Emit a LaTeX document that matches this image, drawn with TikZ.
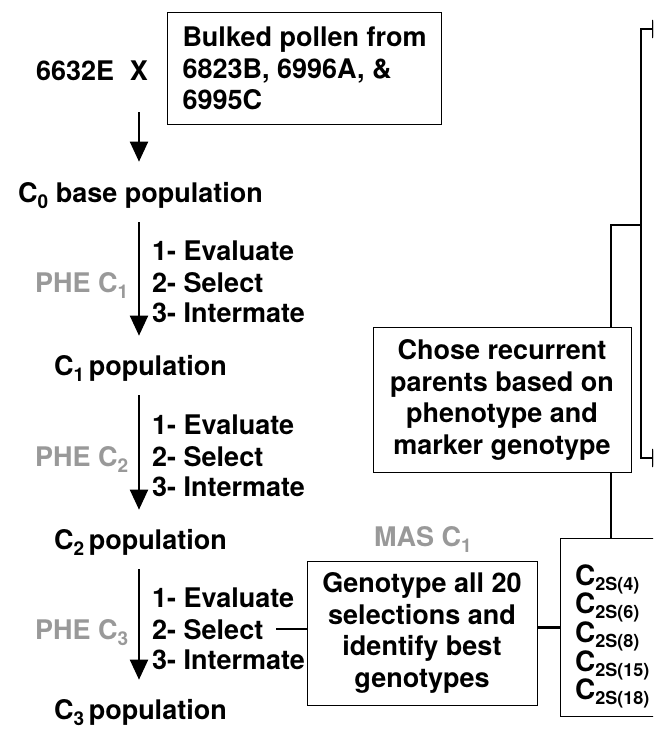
\documentclass[tikz,border=0pt]{standalone}
\usepackage{fontspec}
\setmainfont{TeX Gyre Heros}
\usetikzlibrary{arrows.meta}
\definecolor{phegray}{HTML}{999999}
\newcommand\gensub[1]{\raisebox{-6pt}{\fontsize{19}{19}\selectfont #1}}

\begin{document}
\begin{tikzpicture}[x=1pt, y=-1pt,
    txt/.style={font=\bfseries\fontsize{27}{31.5}\selectfont, inner sep=0pt},
    lbl/.style={txt, text=phegray},
    box/.style={txt, draw, line width=1pt, align=center},
    link/.style={line width=2.2pt},
    flow/.style={line width=2pt, -{Triangle[width=18pt,length=20pt]}}]
    \useasboundingbox (0,0) rectangle (653,730);
    \clip (0,0) rectangle (653,730);
    % parents of the base population
    \node[txt, anchor=base west] (parent) at (36,81) {6632E};
    \node[txt, anchor=base] (crossx) at (139,81) {X};
    \node[box, align=left, anchor=north west, minimum height=112pt, inner xsep=15pt] (bulk) at (167,12)
      {Bulked pollen from\\6823B, 6996A, \&\\6995C};
    \node[txt, anchor=base west] (pop0) at (18,202) {C\gensub{0} base population};
    \draw[flow, shorten <=31pt, shorten >=20pt] (crossx.south) -- (pop0.north -| crossx);
    % three cycles of phenotypic selection
    \foreach \i/\ys/\yp in {1/283/375, 2/457/549, 3/630/719} {
      \pgfmathtruncatemacro\j{\i-1}
      \node[txt, anchor=base west] (ev\i) at (152,\ys-23) {1- Evaluate};
      \node[txt, anchor=base west] (se\i) at (152,\ys+9) {2- Select};
      \node[txt, anchor=base west] (in\i) at (152,\ys+39) {3- Intermate};
      \node[lbl, anchor=base west] (phe\i) at (35,\ys+9) {PHE C\gensub{\i}};
      \node[txt, anchor=base west] (pop\i) at (54,\yp) {C\gensub{\i}\,population};
      \draw[flow, shorten <=14pt, shorten >=19pt] (pop\j.south -| crossx) -- (pop\i.north -| crossx);
    }
    % marker assisted cycle
    \node[lbl, anchor=base west] (mas) at (374,546) {MAS C\gensub{1}};
    \node[box, minimum width=230pt, minimum height=144pt] (geno) at (422,633)
      {Genotype all 20\\selections and\\identify best\\genotypes};
    \draw[link] ([xshift=13pt]se3.east) -- (se3 -| geno.west);
    \node[draw, line width=1pt, anchor=north west, minimum width=140pt, minimum height=178pt] (cbox) at (560,538) {};
    \foreach \s [count=\n] in {4,6,8,15,18} {
      \pgfmathsetmacro\yb{585+28.7*(\n-1)}
      \node[font=\bfseries\fontsize{28}{28}\selectfont, inner sep=0pt, anchor=base west] (sel\s) at (575,\yb)
        {C\raisebox{-5pt}{\fontsize{18}{18}\selectfont 2S(\s)}};
    }
    \draw[link] (cbox.west -| geno.east) -- (cbox.west);
    \node[box, minimum width=258pt, minimum height=145pt] (chose) at (502,400)
      {Chose recurrent\\parents based on\\phenotype and\\marker genotype};
    \coordinate (trunk) at (611,225);
    \coordinate (rail) at (641,225);
    \coordinate (toptip) at (672,29);
    \coordinate (bottip) at (672,458);
    \draw[link] (cbox.north -| trunk) -- (chose.south -| trunk);
    \draw[link] (chose.north -| trunk) -- (trunk) -- (rail);
    \draw[flow] (rail) |- (toptip);
    \draw[flow] (rail) |- (bottip);
\end{tikzpicture}
\end{document}
